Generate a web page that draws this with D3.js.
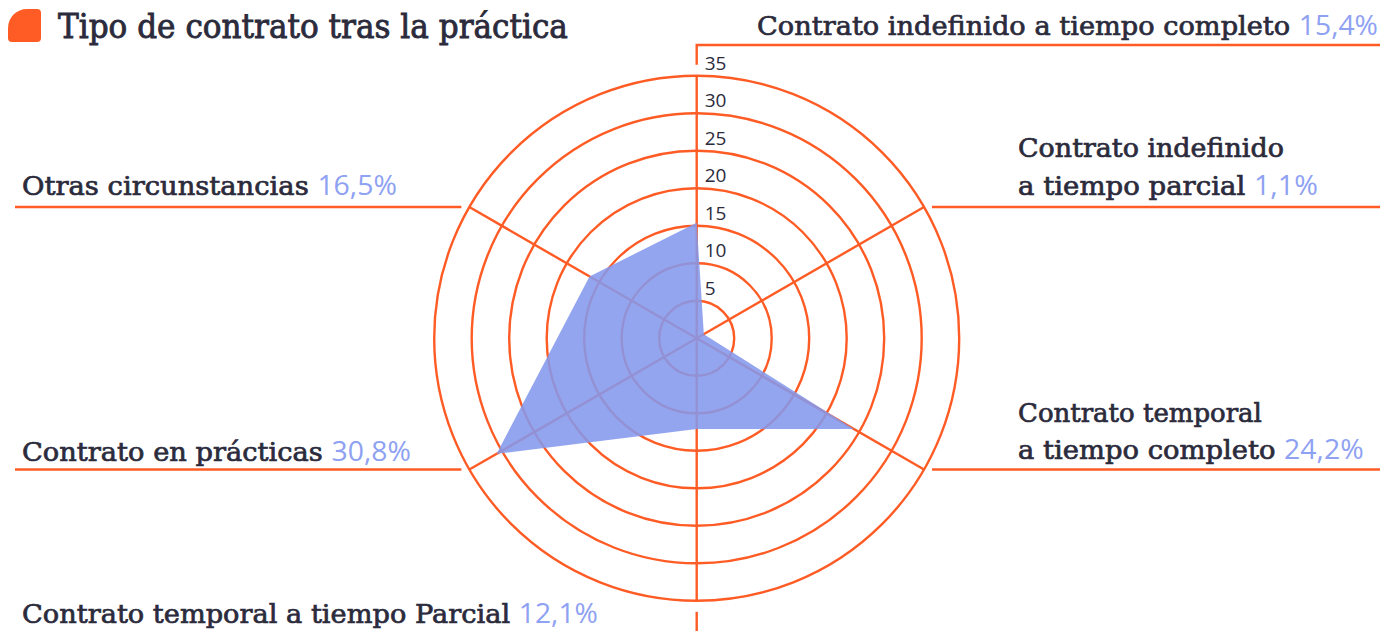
<!DOCTYPE html>
<html>
<head>
<meta charset="utf-8">
<script src="https://cdn.jsdelivr.net/npm/d3@7"></script>
<style>
  body { margin: 0; background: #ffffff; }
  svg { display: block; }
</style>
</head>
<body>
<svg id="chart"></svg>
<script>
// data
const title = "Tipo de contrato tras la práctica";
const categoryLines = [
  ["Contrato indefinido a tiempo completo"],
  ["Contrato indefinido", "a tiempo parcial"],
  ["Contrato temporal", "a tiempo completo"],
  ["Contrato temporal a tiempo Parcial"],
  ["Contrato en prácticas"],
  ["Otras circunstancias"]
];
const values = [15.4, 1.1, 24.2, 12.1, 30.8, 16.5];
const tickValues = [5, 10, 15, 20, 25, 30, 35];

// label boxes (start x, baseline y, width) for every text line, per category
const labelBoxes = [
  [{ x: 757, y: 35, w: 621 }],
  [{ x: 1018, y: 157, w: 266 }, { x: 1018, y: 195, w: 300 }],
  [{ x: 1018, y: 422, w: 244 }, { x: 1018, y: 459, w: 346 }],
  [{ x: 22, y: 623, w: 576 }],
  [{ x: 22, y: 461, w: 389 }],
  [{ x: 22, y: 195, w: 375 }]
];

const width = 1394, height = 631;
const cx = 696.7, cy = 338.3, outerR = 262.5;
const orange = "#ff5b24";
const dark = "#2b2b3c";
const blue = "#8ea1f2";
const slab = "'DejaVu Serif', serif";
const sans = "'Open Sans', 'Noto Sans', sans-serif";

const es = d3.formatLocale({ decimal: ",", thousands: ".", grouping: [3], currency: ["", " €"] });
const fmt = v => es.format(".1f")(v) + "%";

const svg = d3.select("#chart").attr("width", width).attr("height", height);

const r = d3.scaleLinear().domain([0, 35]).range([0, outerR]);
const n = values.length;
const angle = i => i * 2 * Math.PI / n;
const pt = (i, rad) => [cx + rad * Math.sin(angle(i)), cy - rad * Math.cos(angle(i))];

// title
const ix = 8, iy = 9, is = 33, big = 19, small = 4;
svg.append("path")
  .attr("d", `M${ix},${iy + big} A${big},${big} 0 0 1 ${ix + big},${iy}
    L${ix + is - small},${iy} Q${ix + is},${iy} ${ix + is},${iy + small}
    L${ix + is},${iy + is - small} Q${ix + is},${iy + is} ${ix + is - small},${iy + is}
    L${ix + small},${iy + is} Q${ix},${iy + is} ${ix},${iy + is - small} Z`)
  .attr("fill", orange);

function fitText(sel, x, y, w) {
  const node = sel.node();
  const natural = node.getComputedTextLength();
  sel.attr("transform", `translate(${x},${y}) scale(${w / natural},1)`);
}

const titleText = svg.append("text")
  .attr("font-family", slab)
  .attr("font-size", 34)
  .attr("fill", dark)
  .attr("stroke", dark)
  .attr("stroke-width", 0.9)
  .text(title);
fitText(titleText, 58, 38, 510);

// rings
const g = svg.append("g");
g.selectAll("circle.ring")
  .data(tickValues)
  .enter().append("circle")
  .attr("class", "ring")
  .attr("cx", cx).attr("cy", cy)
  .attr("r", d => r(d))
  .attr("fill", "none")
  .attr("stroke", orange)
  .attr("stroke-width", 2.4);

// spokes
g.selectAll("line.axis")
  .data(values)
  .enter().append("line")
  .attr("class", "axis")
  .attr("x1", cx).attr("y1", cy)
  .attr("x2", (d, i) => pt(i, r(35))[0])
  .attr("y2", (d, i) => pt(i, r(35))[1])
  .attr("stroke", orange)
  .attr("stroke-width", 2.4);

// leader lines
const gap = 8;
const leaders = values.map((d, i) => {
  const [ex, ey] = pt(i, r(35));
  if (i === 0) return `M${cx},${cy - outerR - 11} L${cx},45 L1380,45`;
  if (i === 3) return `M${cx},${cy + outerR + 11} L${cx},${height + 5}`;
  if (ex > cx) return `M${ex + gap},${ey} L1380,${ey}`;
  return `M${ex - gap},${ey} L15,${ey}`;
});
g.selectAll("path.leader")
  .data(leaders)
  .enter().append("path")
  .attr("class", "leader")
  .attr("d", d => d)
  .attr("fill", "none")
  .attr("stroke", orange)
  .attr("stroke-width", 2.4);

// polygon
const radial = d3.lineRadial()
  .angle((d, i) => angle(i))
  .radius(d => r(d))
  .curve(d3.curveLinearClosed);
svg.append("path")
  .attr("transform", `translate(${cx},${cy})`)
  .attr("d", radial(values))
  .attr("fill", "rgb(132,153,236)")
  .attr("fill-opacity", 0.88);

// tick labels
svg.selectAll("text.tick")
  .data(tickValues)
  .enter().append("text")
  .attr("class", "tick")
  .attr("x", cx + 8)
  .attr("y", d => cy - r(d) - 6)
  .attr("font-family", sans)
  .attr("font-size", 19)
  .attr("fill", dark)
  .text(d => d);

// category labels
categoryLines.forEach((lines, i) => {
  lines.forEach((line, j) => {
    const box = labelBoxes[i][j];
    const last = j === lines.length - 1;
    const t = svg.append("text").attr("font-size", 26);
    t.append("tspan")
      .attr("font-family", slab)
      .attr("fill", dark)
      .attr("stroke", dark)
      .attr("stroke-width", 0.7)
      .text(last ? line + " " : line);
    if (last) {
      t.append("tspan")
        .attr("font-family", sans)
        .attr("font-size", 27)
        .attr("fill", blue)
        .text(fmt(values[i]));
    }
    fitText(t, box.x, box.y, box.w);
  });
});
</script>
</body>
</html>
